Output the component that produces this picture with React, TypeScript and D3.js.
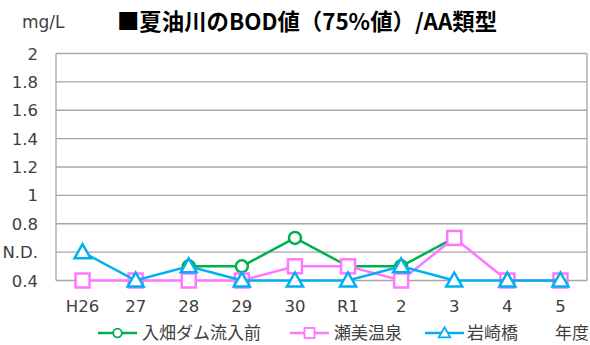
import React from "react";
import * as d3 from "d3";

const years = ["H26", "27", "28", "29", "30", "R1", "2", "3", "4", "5"];
const iriHata: (number | null)[] = [null, null, 0.5, 0.5, 0.7, 0.5, 0.5, 0.7, null, null];
const semiOnsen: (number | null)[] = [0.4, 0.4, 0.4, 0.4, 0.5, 0.5, 0.4, 0.7, 0.4, 0.4];
const iwasakiBashi: (number | null)[] = [0.6, 0.4, 0.5, 0.4, 0.4, 0.4, 0.5, 0.4, 0.4, 0.4];
const yTicks = [0.4, 0.6, 0.8, 1, 1.2, 1.4, 1.6, 1.8, 2];
const yTickLabels = ["0.4", "N.D.", "0.8", "1", "1.2", "1.4", "1.6", "1.8", "2"];

const W = 590, H = 345;
const left = 56, right = 587, top = 53.5, bottom = 280.5;
const font = "DejaVu Sans";
const jpFont = "Noto Sans CJK JP";

type Series = { name: string; values: (number | null)[]; color: string; marker: "circle" | "square" | "triangle" };
const series: Series[] = [
  { name: "入畑ダム流入前", values: iriHata, color: "#00b050", marker: "circle" },
  { name: "瀬美温泉", values: semiOnsen, color: "#ff77ff", marker: "square" },
  { name: "岩崎橋", values: iwasakiBashi, color: "#00b0f0", marker: "triangle" },
];

function Marker({ kind, x, y, color }: { kind: string; x: number; y: number; color: string }) {
  if (kind === "circle") return <circle cx={x} cy={y} r={6} fill="#fff" stroke={color} strokeWidth={2.5} />;
  if (kind === "square") return <rect x={x - 7} y={y - 7} width={14} height={14} fill="#fff" stroke={color} strokeWidth={2.5} />;
  const s = 8;
  return (
    <path
      d={`M${x},${y - s} L${x + s},${y + s * 0.75} L${x - s},${y + s * 0.75} Z`}
      fill="#fff"
      stroke={color}
      strokeWidth={2.5}
      strokeLinejoin="miter"
    />
  );
}

export default function App() {
  const x = d3.scaleBand<string>().domain(years).range([left, right]);
  const y = d3.scaleLinear().domain([0.4, 2]).range([bottom, top]);
  const cx = (c: string) => (x(c) ?? 0) + x.bandwidth() / 2;
  const line = d3
    .line<number | null>()
    .defined((d) => d !== null)
    .x((_, i) => cx(years[i]))
    .y((d) => y(d as number));

  const legend = [
    { lx: 98, tx: 142 },
    { lx: 290, tx: 334 },
    { lx: 425, tx: 467 },
  ];

  return (
    <svg width={W} height={H} style={{ position: "absolute", left: 0, top: 0, background: "#fff" }}>
      <text x={22} y={28} fontFamily={font} fontSize={17} fill="#404040">mg/L</text>
      <text x={307} y={30} textAnchor="middle" fontFamily={jpFont} fontSize={22.4} fontWeight="bold" fill="#000">
        ■夏油川のBOD値（75%値）/AA類型
      </text>

      {yTicks.map((t, i) => (
        <g key={t}>
          <line x1={left} x2={right} y1={y(t)} y2={y(t)} stroke="#a6a6a6" strokeWidth={1.3} />
          <text x={38} y={y(t) + 6} textAnchor="end" fontFamily={font} fontSize={16.5} fill="#404040">
            {yTickLabels[i]}
          </text>
        </g>
      ))}
      <line x1={left} x2={left} y1={top} y2={bottom} stroke="#a6a6a6" strokeWidth={1.3} />
      <line x1={right} x2={right} y1={top} y2={bottom} stroke="#a6a6a6" strokeWidth={1.3} />

      {years.map((c) => (
        <text key={c} x={cx(c)} y={312} textAnchor="middle" fontFamily={font} fontSize={16.5} fill="#404040">
          {c}
        </text>
      ))}

      {series.map((s) => (
        <g key={s.name}>
          <path d={line(s.values) ?? ""} fill="none" stroke={s.color} strokeWidth={2.5} />
          {s.values.map((v, i) =>
            v === null ? null : <Marker key={i} kind={s.marker} x={cx(years[i])} y={y(v)} color={s.color} />
          )}
        </g>
      ))}

      {series.map((s, i) => (
        <g key={s.name}>
          <line x1={legend[i].lx} x2={legend[i].lx + 39} y1={333} y2={333} stroke={s.color} strokeWidth={2.5} />
          <g transform={`translate(${legend[i].lx + 19.5},333) scale(0.72) translate(${-(legend[i].lx + 19.5)},-333)`}>
            <Marker kind={s.marker} x={legend[i].lx + 19.5} y={333} color={s.color} />
          </g>
          <text x={legend[i].tx} y={339} fontFamily={jpFont} fontSize={17} fill="#404040">{s.name}</text>
        </g>
      ))}
      <text x={555} y={339} fontFamily={jpFont} fontSize={17} fill="#404040">年度</text>
    </svg>
  );
}
